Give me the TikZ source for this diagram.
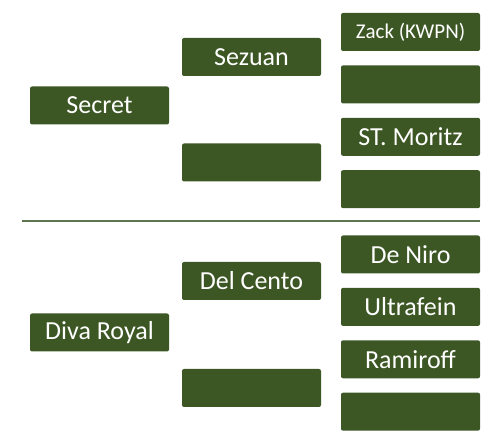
\documentclass[tikz,border=0pt]{standalone}
\usepackage{fontspec}
\setmainfont{Carlito}
\usepackage{tikz}
\usetikzlibrary{positioning}
\definecolor{cHorse}{HTML}{3C5724}
\definecolor{cRule}{HTML}{5E7550}
\tikzset{
  horse/.style ={rounded corners=2pt, fill=cHorse, text=white, align=center,
                 font=\fontsize{26}{28}\selectfont, minimum width=139pt,
                 minimum height=38pt, inner sep=0pt},
  small/.style ={font=\fontsize{21}{23}\selectfont},
  sep/.style   ={line width=2pt, draw=cRule},
}
\begin{document}
\begin{tikzpicture}[x=1pt, y=-1pt, node distance=14pt and 20pt]
    \useasboundingbox (0,0) rectangle (493,443);
    % first pedigree
    \node[horse] (secret) at (99.5,105.5) {Secret};
    \node[horse] (sezuan) at (251.5,57) {Sezuan};
    \node[horse] (dam1) at (251.5,162.5) {};
    \node[horse, small] (zack) at (410.5,32) {Zack (KWPN)};
    \node[horse, below=of zack] (zackdam) {};
    \node[horse, below=of zackdam] (moritz) {ST. Moritz};
    \node[horse, below=of moritz] (moritzdam) {};
    % separator
    \coordinate (sepL) at (22,221);
    \coordinate (sepR) at (480,221);
    \draw[sep] (sepL) -- (sepR);
    % second pedigree
    \node[horse] (diva) at (99.5,332.5) {Diva Royal};
    \node[horse] (cento) at (251.5,281) {Del Cento};
    \node[horse] (dam2) at (251.5,388) {};
    \node[horse] (niro) at (410.5,254.5) {De Niro};
    \node[horse, below=of niro] (ultra) {Ultrafein};
    \node[horse, below=of ultra] (rami) {Ramiroff};
    \node[horse, below=of rami] (ramidam) {};
  \end{tikzpicture}
\end{document}
